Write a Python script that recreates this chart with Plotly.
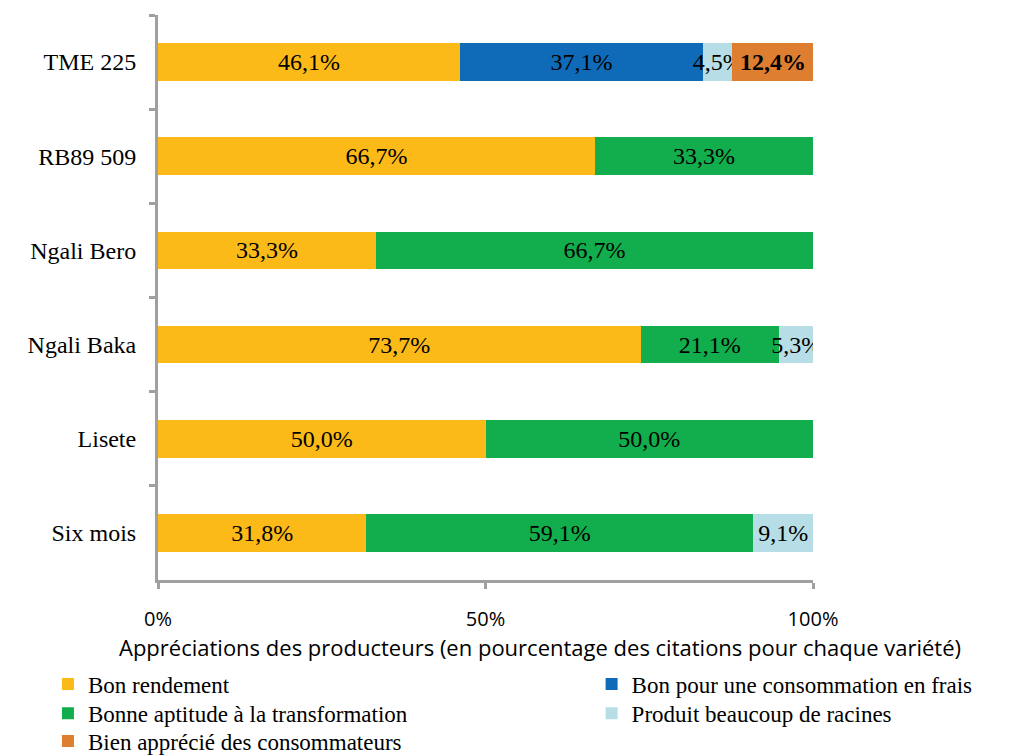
import plotly.graph_objects as go

varieties = ["TME 225", "RB89 509", "Ngali Bero", "Ngali Baka", "Lisete", "Six mois"]
series_names = [
    "Bon rendement",
    "Bon pour une consommation en frais",
    "Bonne aptitude à la transformation",
    "Produit beaucoup de racines",
    "Bien apprécié des consommateurs",
]
bon_rendement = [46.1, 66.7, 33.3, 73.7, 50.0, 31.8]
consommation_frais = [37.1, 0, 0, 0, 0, 0]
aptitude_transformation = [0, 33.3, 66.7, 21.1, 50.0, 59.1]
beaucoup_racines = [4.5, 0, 0, 5.3, 0, 9.1]
apprecie_consommateurs = [12.4, 0, 0, 0, 0, 0]
bold_labels = {("Bien apprécié des consommateurs", "TME 225")}
x_title = "Appréciations des producteurs (en pourcentage des citations pour chaque variété)"

colors = ["#FBBA17", "#0F6BB7", "#12AD4C", "#B7DEE7", "#DD7E30"]
values = [bon_rendement, consommation_frais, aptitude_transformation, beaucoup_racines, apprecie_consommateurs]

serif = "Liberation Serif, Times New Roman, serif"
sans = "Open Sans, Liberation Sans, sans-serif"

# legend placement (two columns, three rows), in paper coordinates
legend_ids = ["legend", "legend2", "legend3", "legend4", "legend5"]
legend_x = [-0.168, 0.662, -0.168, 0.662, -0.168]
legend_y = [-0.184, -0.184, -0.236, -0.236, -0.285]

fig = go.Figure()
for name, vals, col, lid in zip(series_names, values, colors, legend_ids):
    texts = []
    for v, cat in zip(vals, varieties):
        if v == 0:
            texts.append("")
            continue
        t = f"{v:.1f}%".replace(".", ",")
        if (name, cat) in bold_labels:
            t = f"<b>{t}</b>"
        texts.append(t)
    fig.add_trace(go.Bar(
        y=varieties, x=vals, name=name, orientation="h",
        marker=dict(color=col, line=dict(width=0)),
        text=texts, textposition="inside", textangle=0,
        insidetextanchor="middle", constraintext="none",
        textfont=dict(family=serif, size=24, color="black"),
        hoverinfo="skip", legend=lid,
    ))

legend_layout = {}
for lid, lx, ly in zip(legend_ids, legend_x, legend_y):
    legend_layout[lid] = dict(
        x=lx, xanchor="left", y=ly, yanchor="middle",
        font=dict(family=serif, size=23, color="black"),
        bgcolor="rgba(0,0,0,0)", borderwidth=0, itemwidth=30,
    )

fig.update_layout(
    barmode="stack",
    bargap=0.6,
    width=1032, height=755,
    margin=dict(l=150, r=227, t=7, b=183, autoexpand=False),
    paper_bgcolor="white", plot_bgcolor="white",
    showlegend=True,
    xaxis=dict(
        range=[0, 100], tickvals=[0, 50, 100], ticktext=["0%", "50%", "100%"],
        showgrid=False, zeroline=False, automargin=False,
        showline=True, linecolor="#A0A0A0", linewidth=3,
        ticks="outside", ticklen=6, tickwidth=3, tickcolor="#A0A0A0",
        tickfont=dict(family=sans, size=20, color="black"),
        ticklabelstandoff=13,
        fixedrange=True,
    ),
    yaxis=dict(
        categoryorder="array", categoryarray=varieties, autorange="reversed",
        showgrid=False, zeroline=False, automargin=False,
        showline=True, linecolor="#A0A0A0", linewidth=3,
        ticks="outside", ticklen=6, tickwidth=3, tickcolor="#A0A0A0",
        tickson="boundaries",
        tickfont=dict(family=serif, size=24, color="black"),
        ticklabelstandoff=14,
        fixedrange=True,
    ),
    annotations=[dict(
        text=x_title, xref="paper", yref="paper", x=0.583, y=-0.118,
        xanchor="center", yanchor="middle", showarrow=False,
        font=dict(family=sans, size=22, color="black"),
    )],
    **legend_layout,
)

fig.write_html("out.html")
